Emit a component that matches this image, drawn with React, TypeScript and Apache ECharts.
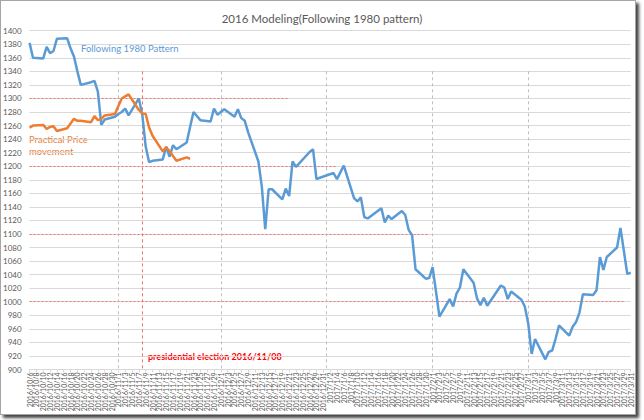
import React, { useEffect, useRef } from "react";
import * as echarts from "echarts";

// Calendar categories (every day from 2016/10/6 to 2017/3/31)
const categories: string[] = [];
for (let i = 0; i < 177; i++) {
  const d = new Date(2016, 9, 6 + i);
  categories.push(`${d.getFullYear()}/${d.getMonth() + 1}/${d.getDate()}`);
}

const yTicks = { min: 900, max: 1400, interval: 20 };

// Following 1980 Pattern (blue)
const patternDates = [
  "2016/10/6","2016/10/7","2016/10/10","2016/10/11","2016/10/12","2016/10/13","2016/10/14",
  "2016/10/17","2016/10/18","2016/10/19","2016/10/20","2016/10/21","2016/10/24","2016/10/25",
  "2016/10/26","2016/10/27","2016/10/28","2016/10/31","2016/11/1","2016/11/2","2016/11/3",
  "2016/11/4","2016/11/7","2016/11/8","2016/11/9","2016/11/10","2016/11/11","2016/11/14",
  "2016/11/15","2016/11/16","2016/11/17","2016/11/18","2016/11/21","2016/11/22","2016/11/23",
  "2016/11/25","2016/11/28","2016/11/29","2016/11/30","2016/12/1","2016/12/2","2016/12/5",
  "2016/12/6","2016/12/7","2016/12/8","2016/12/9","2016/12/12","2016/12/13","2016/12/14",
  "2016/12/15","2016/12/16","2016/12/19","2016/12/20","2016/12/21","2016/12/22","2016/12/23",
  "2016/12/27","2016/12/28","2016/12/29","2016/12/30","2017/1/3","2017/1/4","2017/1/5",
  "2017/1/6","2017/1/9","2017/1/10","2017/1/11","2017/1/12","2017/1/13","2017/1/17",
  "2017/1/18","2017/1/19","2017/1/20","2017/1/23","2017/1/24","2017/1/25","2017/1/26",
  "2017/1/27","2017/1/30","2017/1/31","2017/2/1","2017/2/2","2017/2/3","2017/2/6",
  "2017/2/7","2017/2/8","2017/2/9","2017/2/10","2017/2/13","2017/2/14","2017/2/15",
  "2017/2/16","2017/2/17","2017/2/21","2017/2/22","2017/2/23","2017/2/24","2017/2/27",
  "2017/2/28","2017/3/1","2017/3/2","2017/3/3","2017/3/6","2017/3/7","2017/3/8",
  "2017/3/9","2017/3/10","2017/3/13","2017/3/14","2017/3/15","2017/3/16","2017/3/17",
  "2017/3/20","2017/3/21","2017/3/22","2017/3/23","2017/3/24","2017/3/27","2017/3/28",
  "2017/3/29","2017/3/30","2017/3/31",
];
const patternValues = [
  1382, 1360, 1359, 1376, 1367, 1370, 1388,
  1389, 1374, 1362, 1340, 1320, 1324, 1326,
  1310, 1261, 1269, 1273, 1277, 1280, 1285,
  1275, 1300, 1276, 1229, 1206, 1208, 1210,
  1229, 1214, 1231, 1225, 1235, 1258, 1280,
  1268, 1266, 1285, 1276, 1280, 1284, 1273,
  1284, 1271, 1267, 1250, 1207, 1170, 1107,
  1166, 1166, 1151, 1167, 1156, 1207, 1199,
  1221, 1225, 1181, 1183, 1190, 1181, 1191,
  1201, 1153, 1148, 1154, 1125, 1123, 1138,
  1117, 1127, 1122, 1134, 1128, 1106, 1098,
  1048, 1034, 1035, 1051, 1015, 978, 1004,
  993, 1012, 1021, 1048, 1028, 1005, 995,
  1006, 994, 1024, 1021, 1004, 1015, 1003,
  993, 968, 923, 945, 915, 926, 928,
  945, 965, 950, 963, 970, 984, 1011,
  1010, 1017, 1066, 1047, 1066, 1080, 1109,
  1075, 1041, 1043,
];

// Practical Price movement (orange)
const actualDates = [
  "2016/10/6","2016/10/7","2016/10/10","2016/10/11","2016/10/12","2016/10/13","2016/10/14",
  "2016/10/17","2016/10/18","2016/10/19","2016/10/20","2016/10/21","2016/10/24","2016/10/25",
  "2016/10/26","2016/10/27","2016/10/28","2016/10/31","2016/11/1","2016/11/2","2016/11/3",
  "2016/11/4","2016/11/7","2016/11/8","2016/11/9","2016/11/10","2016/11/11","2016/11/14",
  "2016/11/15","2016/11/16","2016/11/17","2016/11/18","2016/11/21","2016/11/22",
];
const actualValues = [
  1257, 1260, 1261, 1255, 1258, 1259, 1252,
  1256, 1263, 1270, 1267, 1267, 1265, 1274,
  1268, 1270, 1275, 1277, 1289, 1300, 1303,
  1306, 1283, 1278, 1277, 1257, 1245, 1222,
  1228, 1222, 1215, 1208, 1213, 1211,
];

// Reference levels: value, start date, end date
const levelValues = [1300, 1200, 1100, 1000];
const levelStarts = ["2016/10/6", "2016/10/6", "2016/10/6", "2016/10/6"];
const levelEnds = ["2016/12/21", "2017/1/4", "2017/1/31", "2017/3/29"];

// Month separators and election day
const monthLines = ["2016/11/1", "2016/12/1", "2017/1/1", "2017/2/1", "2017/3/1"];
const electionDay = "2016/11/8";
const vLineTop = 1340;

const FONT = "Lato, 'Liberation Sans', sans-serif";

function toSeries(dates: string[], values: number[]) {
  const map = new Map<string, number>();
  dates.forEach((d, i) => map.set(d, values[i]));
  return categories.map((c) => (map.has(c) ? map.get(c)! : null));
}

export default function App() {
  const ref = useRef<HTMLDivElement>(null);

  useEffect(() => {
    if (!ref.current) return;
    const chart = echarts.init(ref.current, undefined, { renderer: "svg" });
    const idx = (d: string) => categories.indexOf(d);

    const markData: any[] = [];
    levelValues.forEach((v, i) => {
      markData.push([
        { coord: [idx(levelStarts[i]), v], lineStyle: { color: "#f47070", type: [2, 2], width: 1 } },
        { coord: [idx(levelEnds[i]), v] },
      ]);
    });
    monthLines.forEach((d) => {
      markData.push([
        { coord: [idx(d), vLineTop], lineStyle: { color: "#bfbfbf", type: [3, 3], width: 1 } },
        { coord: [idx(d), yTicks.min] },
      ]);
    });
    markData.push([
      { coord: [idx(electionDay), vLineTop], lineStyle: { color: "#f47070", type: [3, 3], width: 1 } },
      { coord: [idx(electionDay), yTicks.min] },
    ]);

    chart.setOption({
      animation: false,
      backgroundColor: "#ffffff",
      title: {
        text: "2016 Modeling(Following 1980 pattern)",
        left: "center",
        top: 7,
        textStyle: { fontFamily: FONT, fontSize: 11.5, fontWeight: "normal", color: "#595959" },
      },
      grid: { left: 29.3, right: 13.3, top: 30.7, bottom: 50.5 },
      xAxis: {
        type: "category",
        data: categories,
        boundaryGap: false,
        axisLine: { lineStyle: { color: "#d9d9d9" } },
        axisTick: { interval: 1, length: 3, lineStyle: { color: "#d9d9d9" } },
        axisLabel: {
          interval: 1,
          rotate: 90,
          fontSize: 7,
          fontFamily: FONT,
          color: "#595959",
          margin: 3,
        },
        splitLine: { show: false },
      },
      yAxis: {
        type: "value",
        min: yTicks.min,
        max: yTicks.max,
        interval: yTicks.interval,
        axisLine: { show: false },
        axisTick: { show: false },
        axisLabel: {
          fontSize: 8,
          fontFamily: FONT,
          color: "#595959",
          margin: 8,
          formatter: (v: number) => String(v),
        },
        splitLine: { lineStyle: { color: "#d9d9d9", width: 1 } },
      },
      series: [
        {
          name: "Following 1980 Pattern",
          type: "line",
          data: toSeries(patternDates, patternValues),
          connectNulls: true,
          showSymbol: false,
          symbol: "none",
          lineStyle: { color: "#5b9bd5", width: 2.5 },
          z: 3,
          markLine: {
            silent: true,
            symbol: "none",
            label: { show: false },
            z: 1,
            data: markData,
          },
        },
        {
          name: "Practical Price movement",
          type: "line",
          data: toSeries(actualDates, actualValues),
          connectNulls: true,
          showSymbol: false,
          symbol: "none",
          lineStyle: { color: "#ed7d31", width: 2.5 },
          z: 4,
        },
      ],
      graphic: [
        {
          type: "text",
          left: 81,
          top: 43,
          style: { text: "Following 1980 Pattern", fontSize: 9.5, fontFamily: FONT, fill: "#5b9bd5" },
        },
        {
          type: "text",
          left: 29,
          top: 134,
          style: { text: "Practical Price", fontSize: 9.5, fontFamily: FONT, fill: "#ed7d31" },
        },
        {
          type: "text",
          left: 29,
          top: 146,
          style: { text: "movement", fontSize: 9.5, fontFamily: FONT, fill: "#ed7d31" },
        },
        {
          type: "text",
          left: 148,
          top: 352,
          style: {
            text: "presidential election 2016/11/08",
            fontSize: 9,
            fontWeight: "bold",
            fontFamily: FONT,
            fill: "#ff0000",
          },
        },
      ],
    });
    return () => chart.dispose();
  }, []);

  return (
    <div style={{ position: "fixed", left: 0, top: 0, width: 644, height: 420, background: "#fff" }}>
      <div ref={ref} style={{ position: "absolute", left: 0, top: 0, width: 644, height: 420 }} />
      <div
        style={{
          position: "absolute",
          left: 0,
          top: 0,
          width: 634,
          height: 413,
          border: "1px solid #a6a6a6",
          boxShadow: "3px 3px 3px #444",
          pointerEvents: "none",
        }}
      />
    </div>
  );
}
